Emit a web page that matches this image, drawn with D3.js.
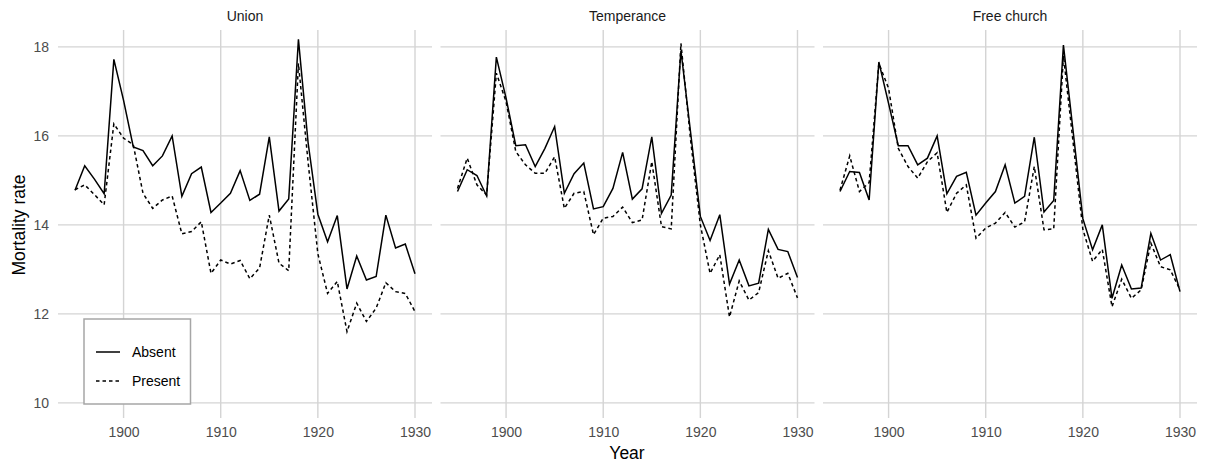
<!DOCTYPE html>
<html lang="en">
<head>
<meta charset="utf-8"/>
<title>Mortality rate by year</title>
<script src="https://cdn.jsdelivr.net/npm/d3@7"></script>
<style>
  body { margin: 0; background: #fff; }
  svg { display: block; font-family: "Liberation Sans", Arial, sans-serif; }
  .tick text { fill: #4d4d4d; font-size: 14px; }
</style>
</head>
<body>
<svg id="chart"></svg>
<script>

const years = [1895, 1896, 1897, 1898, 1899, 1900, 1901, 1902, 1903, 1904, 1905, 1906,
  1907, 1908, 1909, 1910, 1911, 1912, 1913, 1914, 1915, 1916, 1917, 1918,
  1919, 1920, 1921, 1922, 1923, 1924, 1925, 1926, 1927, 1928, 1929, 1930]

const panels = ['Union', 'Temperance', 'Free church']
const groups = ['Absent', 'Present']

const unionAbsent = [14.78, 15.33, 15.03, 14.70, 17.72, 16.80, 15.75, 15.67, 15.33, 15.55, 16.00, 14.64,
  15.15, 15.30, 14.28, 14.49, 14.71, 15.22, 14.55, 14.69, 15.98, 14.31, 14.58, 18.17,
  15.84, 14.24, 13.62, 14.21, 12.56, 13.30, 12.76, 12.84, 14.22, 13.48, 13.57, 12.90]
const unionPresent = [14.79, 14.90, 14.68, 14.45, 16.27, 15.95, 15.80, 14.71, 14.37, 14.56, 14.65, 13.80,
  13.85, 14.07, 12.91, 13.21, 13.12, 13.20, 12.79, 13.03, 14.22, 13.14, 12.97, 17.63,
  15.40, 13.35, 12.46, 12.73, 11.60, 12.24, 11.83, 12.13, 12.70, 12.50, 12.46, 12.05]

const temperanceAbsent = [14.75, 15.24, 15.11, 14.65, 17.77, 16.85, 15.78, 15.80, 15.31, 15.72, 16.21, 14.71,
  15.15, 15.39, 14.36, 14.41, 14.82, 15.63, 14.58, 14.81, 15.98, 14.26, 14.67, 17.92,
  16.07, 14.19, 13.65, 14.23, 12.67, 13.21, 12.63, 12.69, 13.90, 13.45, 13.40, 12.82]
const temperancePresent = [14.82, 15.50, 14.90, 14.67, 17.41, 16.77, 15.65, 15.35, 15.16, 15.16, 15.53, 14.37,
  14.71, 14.75, 13.78, 14.15, 14.19, 14.40, 14.05, 14.11, 15.42, 13.96, 13.91, 18.08,
  15.90, 14.00, 12.91, 13.33, 11.93, 12.74, 12.31, 12.48, 13.42, 12.80, 12.91, 12.36]

const freeAbsent = [14.75, 15.20, 15.18, 14.56, 17.66, 16.73, 15.78, 15.78, 15.35, 15.50, 16.00, 14.70,
  15.09, 15.18, 14.22, 14.49, 14.75, 15.35, 14.49, 14.64, 15.97, 14.29, 14.55, 18.04,
  16.10, 14.14, 13.44, 14.00, 12.35, 13.10, 12.56, 12.58, 13.81, 13.21, 13.33, 12.50]
const freePresent = [14.78, 15.55, 14.75, 14.95, 17.63, 17.07, 15.72, 15.31, 15.05, 15.42, 15.62, 14.28,
  14.71, 14.90, 13.70, 13.93, 14.04, 14.28, 13.95, 14.07, 15.31, 13.89, 13.91, 17.80,
  15.85, 13.90, 13.18, 13.45, 12.16, 12.78, 12.35, 12.54, 13.59, 13.06, 12.99, 12.54]

const yTicks = [10, 12, 14, 16, 18]
const xTicks = [1900, 1910, 1920, 1930]

const seriesByPanel = {
  'Union': [unionAbsent, unionPresent],
  'Temperance': [temperanceAbsent, temperancePresent],
  'Free church': [freeAbsent, freePresent]
}

const width = 1205
const height = 468
const plotTop = 30, plotBottom = 418
const panelLeft = [58, 440.5, 823]
const panelWidth = 374
const grid = '#d4d4d4'
const dashes = [null, '3.5,3']

const svg = d3.select('#chart')
  .attr('width', width)
  .attr('height', height)

const y = d3.scaleLinear()
  .domain([9.66, 18.38])
  .range([plotBottom, plotTop])

panels.forEach((name, i) => {
  const x = d3.scaleLinear()
    .domain([1893.25, 1931.75])
    .range([panelLeft[i], panelLeft[i] + panelWidth])

  const g = svg.append('g')

  // grid
  g.selectAll('.hgrid')
    .data(yTicks)
    .enter()
    .append('line')
    .attr('x1', x.range()[0])
    .attr('x2', x.range()[1])
    .attr('y1', d => y(d))
    .attr('y2', d => y(d))
    .attr('stroke', grid)
    .attr('stroke-width', 1.4)

  g.selectAll('.vgrid')
    .data(xTicks)
    .enter()
    .append('line')
    .attr('x1', d => x(d))
    .attr('x2', d => x(d))
    .attr('y1', plotTop)
    .attr('y2', plotBottom)
    .attr('stroke', grid)
    .attr('stroke-width', 1.4)

  // strip title
  g.append('text')
    .attr('x', x.range()[0] + panelWidth / 2)
    .attr('y', 21)
    .attr('text-anchor', 'middle')
    .style('font-size', '14px')
    .style('fill', '#1a1a1a')
    .text(name)

  // x axis labels
  const xa = g.append('g')
    .attr('transform', `translate(0,${plotBottom})`)
    .call(d3.axisBottom(x).tickValues(xTicks).tickFormat(d3.format('d')).tickSize(0).tickPadding(9))
  xa.select('.domain').remove()

  if (i === 0) {
    const ya = g.append('g')
      .attr('transform', `translate(${x.range()[0]},0)`)
      .call(d3.axisLeft(y).tickValues(yTicks).tickSize(0).tickPadding(9))
    ya.select('.domain').remove()
  }

  const line = d3.line()
    .x((d, k) => x(years[k]))
    .y(d => y(d))

  seriesByPanel[name].forEach((vals, s) => {
    g.append('path')
      .datum(vals)
      .attr('d', line)
      .attr('fill', 'none')
      .attr('stroke', '#000')
      .attr('stroke-width', 1.5)
      .attr('stroke-dasharray', dashes[s])
  })
})

// axis titles
svg.append('text')
  .attr('x', 627)
  .attr('y', 459)
  .attr('text-anchor', 'middle')
  .style('font-size', '17.5px')
  .text('Year')

svg.append('text')
  .attr('transform', 'translate(25,225) rotate(-90)')
  .attr('text-anchor', 'middle')
  .style('font-size', '17.5px')
  .text('Mortality rate')

// legend
const legend = svg.append('g')

legend.append('rect')
  .attr('x', 84)
  .attr('y', 319)
  .attr('width', 106.5)
  .attr('height', 85)
  .attr('fill', '#fff')
  .attr('stroke', '#a6a6a6')
  .attr('stroke-width', 1.5)

groups.forEach((label, s) => {
  const ly = 352 + s * 29
  legend.append('line')
    .attr('x1', 96)
    .attr('x2', 120)
    .attr('y1', ly)
    .attr('y2', ly)
    .attr('stroke', '#000')
    .attr('stroke-width', 1.5)
    .attr('stroke-dasharray', dashes[s])
  legend.append('text')
    .attr('x', 132)
    .attr('y', ly + 5)
    .style('font-size', '14px')
    .text(label)
})

</script>
</body>
</html>
